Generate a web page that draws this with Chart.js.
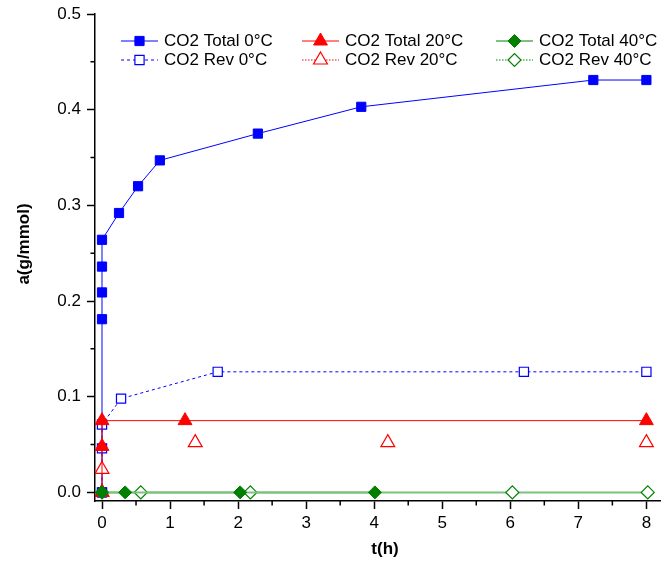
<!DOCTYPE html>
<html>
<head>
<meta charset="utf-8">
<script src="https://cdn.jsdelivr.net/npm/chart.js@4"></script>
<style>
  html, body { margin: 0; padding: 0; background: #fff; }
  #wrap { width: 662px; height: 567px; position: relative; }
</style>
</head>
<body>
<div id="wrap"><canvas id="chart"></canvas></div>
<script>
// CO2 uptake a(g/mmol) against time t(h)

const total0T = [0, 0, 0, 0, 0, 0.25, 0.53, 0.85, 2.29, 3.81, 7.22, 8];
const total0A = [0, 0.181, 0.209, 0.236, 0.264, 0.292, 0.320, 0.347, 0.375, 0.403, 0.431, 0.431];

const rev0T = [0, 0, 0, 0.28, 1.7, 6.2, 8];
const rev0A = [0, 0.046, 0.071, 0.098, 0.126, 0.126, 0.126];

const total20T = [0, 0, 0, 1.22, 8];
const total20A = [0, 0.048, 0.075, 0.075, 0.075];

const rev20T = [0, 0, 1.37, 4.2, 8];
const rev20A = [0, 0.024, 0.052, 0.052, 0.052];

const total40T = [0, 0.34, 2.03, 4.01];
const total40A = [0, 0, 0, 0];

const rev40T = [0, 0.57, 2.18, 6.03, 8.02];
const rev40A = [0, 0, 0, 0, 0];

const seriesLabels = ['CO2 Total 0°C', 'CO2 Rev 0°C', 'CO2 Total 20°C', 'CO2 Rev 20°C', 'CO2 Total 40°C', 'CO2 Rev 40°C'];

const xMajor = [0, 1, 2, 3, 4, 5, 6, 7, 8];
const xMinor = [0.5, 1.5, 2.5, 3.5, 4.5, 5.5, 6.5, 7.5];
const yMinor = [0.05, 0.15, 0.25, 0.35, 0.45];

const FONT = "'Liberation Sans', Arial, sans-serif";

function pts(ts, as) {
    return ts.map((t, i) => ({ x: t, y: as[i] }));
}

// legend grid: dataset indices per row
const legendRows = [[0, 2, 4], [1, 3, 5]];
const legendCols = [121, 302, 496];
const legendRowY = [41, 60];

const extras = {
    id: 'extras',
    afterDraw(chart) {
        const ctx = chart.ctx;
        const { left, bottom } = chart.chartArea;
        const xs = chart.scales.x, ys = chart.scales.y;
        ctx.save();

        // minor ticks
        ctx.strokeStyle = '#000';
        ctx.lineWidth = 1.5;
        ctx.beginPath();
        xMinor.forEach(v => {
            const p = xs.getPixelForValue(v);
            ctx.moveTo(p, bottom);
            ctx.lineTo(p, bottom + 4.5);
        });
        yMinor.forEach(v => {
            const p = ys.getPixelForValue(v);
            ctx.moveTo(left, p);
            ctx.lineTo(left - 4.5, p);
        });
        ctx.stroke();

        // axis titles
        ctx.fillStyle = '#000';
        ctx.font = 'bold 17px ' + FONT;
        ctx.textAlign = 'center';
        ctx.textBaseline = 'middle';
        ctx.fillText('t(h)', 385, 549);
        ctx.save();
        ctx.translate(24, 244);
        ctx.rotate(-Math.PI / 2);
        ctx.fillText('a(g/mmol)', 0, 0);
        ctx.restore();

        // legend
        legendRows.forEach((row, r) => row.forEach((di, c) => {
            const ds = chart.data.datasets[di];
            const x0 = legendCols[c], y0 = legendRowY[r];
            ctx.strokeStyle = ds.legendColor;
            ctx.lineWidth = 1;
            ctx.setLineDash(ds.legendDash);
            ctx.beginPath();
            ctx.moveTo(x0, y0);
            ctx.lineTo(x0 + 37, y0);
            ctx.stroke();
            ctx.setLineDash([]);
            ctx.fillStyle = ds.pointBackgroundColor;
            ctx.strokeStyle = ds.pointBorderColor;
            ctx.lineWidth = ds.pointBorderWidth;
            Chart.helpers.drawPoint(ctx, {
                pointStyle: ds.pointStyle, radius: ds.pointRadius,
                borderWidth: ds.pointBorderWidth, rotation: 0
            }, x0 + 18.5, y0);
            ctx.fillStyle = '#000';
            ctx.font = '17px ' + FONT;
            ctx.textAlign = 'left';
            ctx.textBaseline = 'middle';
            ctx.fillText(ds.label, x0 + 43, y0 + 0.5);
        }));

        ctx.restore();
    }
};

const ctx = document.getElementById('chart').getContext('2d');
new Chart(ctx, {
    type: 'line',
    data: {
        datasets: [
            {
                label: seriesLabels[0], data: pts(total0T, total0A),
                borderColor: '#0000ff', borderWidth: 1, legendColor: '#0000ff', legendDash: [],
                pointStyle: 'rect', pointRadius: 6.5,
                pointBackgroundColor: '#0000ff', pointBorderColor: '#0000ff', pointBorderWidth: 1,
                order: 2
            },
            {
                label: seriesLabels[1], data: pts(rev0T, rev0A),
                borderColor: '#0000ff', borderWidth: 1, borderDash: [3, 3], legendColor: '#0000ff', legendDash: [3, 3],
                pointStyle: 'rect', pointRadius: 6.5,
                pointBackgroundColor: '#ffffff', pointBorderColor: '#0000ff', pointBorderWidth: 1.2,
                order: 2
            },
            {
                label: seriesLabels[2], data: pts(total20T, total20A),
                borderColor: '#ff0000', borderWidth: 1, legendColor: '#ff0000', legendDash: [],
                pointStyle: 'triangle', pointRadius: 8,
                pointBackgroundColor: '#ff0000', pointBorderColor: '#ff0000', pointBorderWidth: 1,
                order: 1
            },
            {
                label: seriesLabels[3], data: pts(rev20T, rev20A),
                borderColor: '#ff0000', borderWidth: 1, showLine: false, legendColor: '#ff0000', legendDash: [1.5, 1.5],
                pointStyle: 'triangle', pointRadius: 8,
                pointBackgroundColor: '#ffffff', pointBorderColor: '#ff0000', pointBorderWidth: 1.2,
                order: 1
            },
            {
                label: seriesLabels[4], data: pts(total40T, total40A),
                borderColor: '#7cc27c', borderWidth: 2, legendColor: '#008000', legendDash: [],
                pointStyle: 'rectRot', pointRadius: 6.5,
                pointBackgroundColor: '#007f00', pointBorderColor: '#007f00', pointBorderWidth: 1,
                order: 0
            },
            {
                label: seriesLabels[5], data: pts(rev40T, rev40A),
                borderColor: '#7cc27c', borderWidth: 2, legendColor: '#008000', legendDash: [1.5, 1.5],
                pointStyle: 'rectRot', pointRadius: 6.5,
                pointBackgroundColor: '#ffffff', pointBorderColor: '#008000', pointBorderWidth: 1.2,
                order: 0
            }
        ]
    },
    options: {
        responsive: true,
        maintainAspectRatio: false,
        animation: false,
        layout: { autoPadding: false, padding: { top: 14, right: 2, left: 0, bottom: 0 } },
        elements: { line: { tension: 0 } },
        plugins: {
            legend: { display: false },
            tooltip: { enabled: false }
        },
        scales: {
            x: {
                type: 'linear',
                min: -0.103,
                max: 8.2,
                afterFit: s => { s.height = 66; s.paddingLeft = 0; s.paddingRight = 0; },
                afterBuildTicks: s => { s.ticks = xMajor.map(v => ({ value: v })); },
                ticks: {
                    font: { family: FONT, size: 17 },
                    color: '#000',
                    padding: 4,
                    callback: v => String(v)
                },
                grid: { drawOnChartArea: false, drawTicks: true, tickLength: 8, tickColor: '#000', tickWidth: 1.5 },
                border: { display: true, color: '#000', width: 1.5 }
            },
            y: {
                min: -0.009,
                max: 0.5,
                afterFit: s => { s.width = 95; s.paddingTop = 0; s.paddingBottom = 0; },
                ticks: {
                    stepSize: 0.1,
                    includeBounds: false,
                    font: { family: FONT, size: 17 },
                    color: '#000',
                    padding: 6,
                    callback: v => v.toFixed(1)
                },
                grid: { drawOnChartArea: false, drawTicks: true, tickLength: 8, tickColor: '#000', tickWidth: 1.5 },
                border: { display: true, color: '#000', width: 1.5 }
            }
        }
    },
    plugins: [extras]
});
</script>
</body>
</html>
